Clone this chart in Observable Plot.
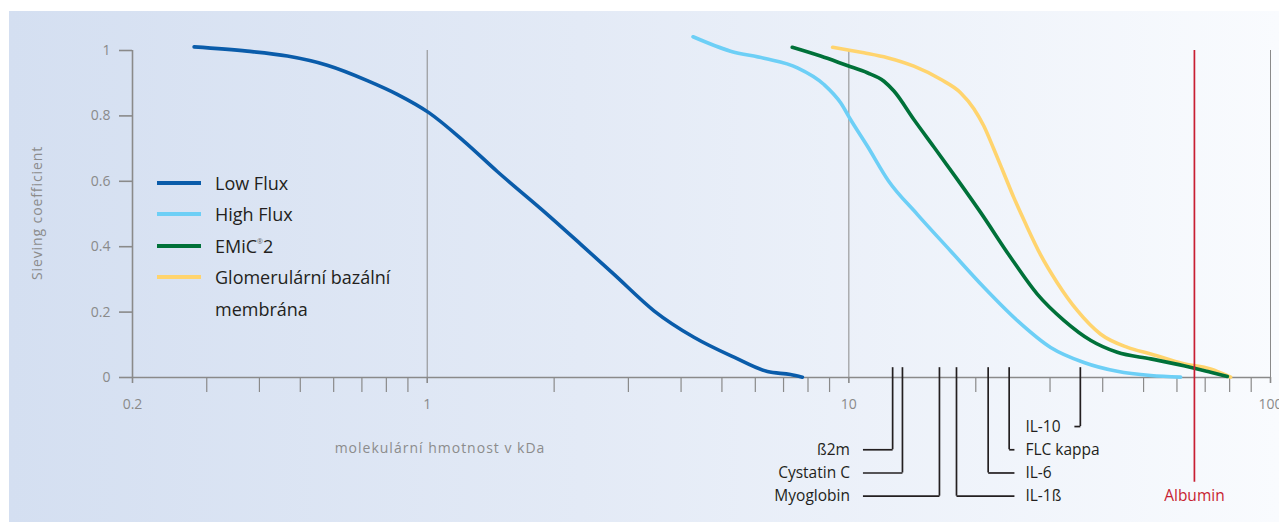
<!DOCTYPE html>
<html>
<head>
<meta charset="utf-8">
<script src="https://cdn.jsdelivr.net/npm/d3@7"></script>
<script src="https://cdn.jsdelivr.net/npm/@observablehq/plot@0.6"></script>
<style>
  body { margin: 0; background: #fff; font-family: "Open Sans", sans-serif; }
  #wrap { position: relative; width: 1279px; height: 522px; overflow: hidden; }
  #bg { position: absolute; left: 9px; top: 11px; right: 0; bottom: 0;
        background: linear-gradient(to right, #d4dff1 0%, #e3eaf6 45%, #f9fbfe 100%); }
  #chart { position: absolute; left: 0; top: 0; }
  #legend { position: absolute; left: 157px; top: 167px; color: #231f20; font-size: 18px; }
  #legend .row { height: 31.5px; display: flex; align-items: center; white-space: nowrap; }
  #legend .sw { width: 44px; height: 4px; margin-right: 14px; }
  #legend .cont { padding-left: 58px; }
  #legend sup { font-size: 7px; color: #666; vertical-align: 9px; }
  .axt { position: absolute; color: #8c8c8c; font-size: 14px; white-space: nowrap; }
  #xt { left: 440px; top: 447px; transform: translate(-50%, -50%); letter-spacing: 1px; }
  #yt { left: 36px; top: 213px; transform: translate(-50%, -50%) rotate(-90deg); letter-spacing: 0.9px; }
</style>
</head>
<body>
<div id="wrap">
  <div id="bg"></div>
  <div id="chart"></div>
  <div class="axt" id="xt">molekulární hmotnost v kDa</div>
  <div class="axt" id="yt">Sieving coefficient</div>
  <div id="legend"></div>
</div>
<script>
// ---- data (molecular weight in kDa, sieving coefficient) ----
const lowFluxKDa = [0.280, 0.374, 0.466, 0.579, 0.721, 0.849, 1.009, 1.221, 1.466, 1.926, 2.31, 2.77, 3.45, 4.29, 5.34, 6.41, 7.27, 7.76];
const lowFluxSC  = [1.011, 0.998, 0.983, 0.955, 0.908, 0.866, 0.810, 0.723, 0.630, 0.499, 0.408, 0.316, 0.204, 0.123, 0.062, 0.018, 0.009, 0.001];

const highFluxKDa = [4.27, 5.24, 6.29, 7.55, 8.73, 9.56, 10.09, 11.06, 12.42, 14.53, 17.43, 20.9, 25.1, 30.1, 36.1, 43.3, 52.0, 61.2];
const highFluxSC  = [1.042, 0.998, 0.976, 0.947, 0.896, 0.840, 0.789, 0.708, 0.601, 0.499, 0.387, 0.276, 0.174, 0.092, 0.046, 0.019, 0.006, 0.001];

const emicKDa = [7.34, 8.57, 9.91, 11.06, 12.11, 12.79, 14.26, 15.91, 18.08, 20.53, 24.2, 27.98, 32.4, 37.5, 43.3, 52.0, 62.3, 72.1, 79.0];
const emicSC  = [1.010, 0.983, 0.954, 0.932, 0.906, 0.876, 0.789, 0.705, 0.606, 0.505, 0.367, 0.255, 0.174, 0.113, 0.077, 0.057, 0.036, 0.016, 0.003];

const gbmKDa = [9.15, 10.86, 12.34, 14.26, 16.5, 18.4, 19.79, 20.9, 22.08, 23.32, 24.62, 26.26, 28.5, 31.2, 34.8, 39.5, 45.8, 52.0, 62.3, 72.1, 80.4];
const gbmSC  = [1.010, 0.993, 0.978, 0.952, 0.912, 0.871, 0.822, 0.769, 0.698, 0.624, 0.550, 0.470, 0.375, 0.290, 0.205, 0.133, 0.092, 0.072, 0.042, 0.026, 0.001];

const seriesNames  = ["Low Flux", "High Flux", "EMiC<sup>®</sup>2", "Glomerulární bazální", "membrána"];
const seriesColors = ["#0a5caa", "#6dcff6", "#007139", "#ffd46e"];

const proteinNames = ["ß2m", "Cystatin C", "Myoglobin", "IL-1ß", "IL-6", "FLC kappa", "IL-10"];
const proteinKDa   = [12.7, 13.4, 16.4, 18.0, 21.4, 24.0, 35.4];
const proteinRow   = [1, 2, 3, 3, 2, 1, 0];
const proteinSide  = ["left", "left", "left", "right", "right", "right", "right"];

const albuminLabel = "Albumin";
const albuminKDa = 66;

const yTicks = [0, 0.2, 0.4, 0.6, 0.8, 1];
const xMajorTicks = [0.2, 1, 10, 100];
const xMinorTicks = [0.3, 0.4, 0.5, 0.6, 0.7, 0.8, 0.9, 2, 3, 4, 5, 6, 7, 8, 9, 20, 30, 40, 50, 60, 70, 80, 90];

// ---- build tables ----
const toRows = (kda, sc) => kda.map((k, i) => ({kda: k, sc: sc[i]}));
const lowFlux = toRows(lowFluxKDa, lowFluxSC);
const highFlux = toRows(highFluxKDa, highFluxSC);
const emic = toRows(emicKDa, emicSC);
const gbm = toRows(gbmKDa, gbmSC);

// label rows below the axis (in y-scale units, beneath 0)
const rowY = r => -0.15 - r * 0.071;
const leftAnchor = 10.8, rightAnchor = 24.7;
const proteins = proteinNames.map((n, i) => {
  const k = proteinKDa[i], side = proteinSide[i];
  let x2, tx;
  if (side === "left") { x2 = leftAnchor; tx = leftAnchor; }
  else { x2 = k > rightAnchor ? k / 1.033 : rightAnchor; tx = rightAnchor; }
  return {name: n, kda: k, y: rowY(proteinRow[i]), side, x2, tx};
});
const leftProteins = proteins.filter(d => d.side === "left");
const rightProteins = proteins.filter(d => d.side === "right");

const axisColor = "#8a8a8a";
const textColor = "#231f20";

const chart = Plot.plot({
  width: 1279,
  height: 522,
  marginLeft: 132,
  marginRight: 9,
  marginTop: 50,
  marginBottom: 145,
  style: {background: "transparent", fontFamily: "'Open Sans', sans-serif", overflow: "visible"},
  x: {type: "log", domain: [0.2, 100]},
  y: {domain: [0, 1]},
  marks: [
    Plot.ruleX(xMajorTicks.slice(1), {y1: 0, y2: 1, stroke: "#8a8a8a", strokeWidth: 1}),
    Plot.ruleX([0.2], {y1: 0, y2: 1, stroke: axisColor, strokeWidth: 1.6}),
    Plot.ruleY([0], {x1: 0.2, x2: 100, stroke: axisColor, strokeWidth: 1.6}),
    Plot.axisY({ticks: yTicks, tickSize: 13, tickPadding: 9, tickFormat: d => String(d),
                fontSize: 14, stroke: axisColor, fill: axisColor, strokeWidth: 1.6, label: null}),
    Plot.axisX({ticks: xMinorTicks, tickSize: 15, tickFormat: () => "", stroke: axisColor, strokeWidth: 1.2, label: null}),
    Plot.axisX({ticks: xMajorTicks, tickSize: 6, tickPadding: 16, tickFormat: d => String(d),
                fontSize: 14, stroke: axisColor, fill: axisColor, strokeWidth: 1.6, label: null}),
    // protein markers
    Plot.ruleX(proteins, {x: "kda", y1: 0.03, y2: "y", stroke: textColor, strokeWidth: 1.7}),
    Plot.link(proteins, {x1: "kda", x2: "x2", y1: "y", y2: "y", stroke: textColor, strokeWidth: 1.7}),
    Plot.text(leftProteins, {x: "tx", y: "y", text: "name", fill: textColor, fontSize: 15.5,
                             textAnchor: "end", dx: -13}),
    Plot.text(rightProteins, {x: "tx", y: "y", text: "name", fill: textColor, fontSize: 15.5,
                              textAnchor: "start", dx: 11}),
    // curves
    Plot.line(lowFlux, {x: "kda", y: "sc", stroke: seriesColors[0], strokeWidth: 3.6, curve: "monotone-x"}),
    Plot.line(highFlux, {x: "kda", y: "sc", stroke: seriesColors[1], strokeWidth: 3.6, curve: "monotone-x"}),
    Plot.line(gbm, {x: "kda", y: "sc", stroke: seriesColors[3], strokeWidth: 3.6, curve: "monotone-x"}),
    Plot.line(emic, {x: "kda", y: "sc", stroke: seriesColors[2], strokeWidth: 3.6, curve: "monotone-x"}),
    // albumin
    Plot.ruleX([albuminKDa], {y1: 1, y2: -0.32, stroke: "#c81e32", strokeWidth: 1.7}),
    Plot.text([albuminLabel], {x: albuminKDa, y: rowY(3), text: d => d, fill: "#c81e32", fontSize: 15.5})
  ]
});
document.getElementById("chart").appendChild(chart);

const legend = document.getElementById("legend");
seriesNames.forEach((name, i) => {
  const row = document.createElement("div");
  row.className = "row";
  if (i < seriesColors.length) {
    row.innerHTML = `<div class="sw" style="background:${seriesColors[i]}"></div><span>${name}</span>`;
  } else {
    row.innerHTML = `<span class="cont">${name}</span>`;
  }
  legend.appendChild(row);
});
</script>
</body>
</html>
